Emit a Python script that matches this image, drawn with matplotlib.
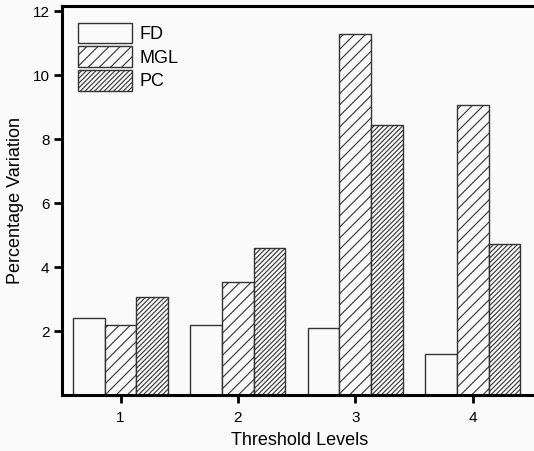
import numpy as np
import matplotlib
matplotlib.use('agg')
import matplotlib.pyplot as plt

plt.rcParams['font.family'] = ['Liberation Sans', 'DejaVu Sans']
plt.rcParams['hatch.color'] = '#444444'
plt.rcParams['hatch.linewidth'] = 0.8

## Values
levels = [1, 2, 3, 4]
fd = [2.41, 2.19, 2.11, 1.28]
mgl = [2.20, 3.54, 11.28, 9.06]
pc = [3.07, 4.60, 8.45, 4.73]

fig = plt.figure(figsize=(5.34, 4.51), dpi=100)
fig.patch.set_facecolor('#fafafa')
ax = fig.add_axes([0.116, 0.124, 0.89, 0.862])
ax.set_facecolor('#fafafa')

x = np.array(levels)
w = 0.27
ax.bar(x - w, fd, w, facecolor='#fafafa', edgecolor='#333333', linewidth=1.0, label='FD')
ax.bar(x, mgl, w, facecolor='#fafafa', edgecolor='#333333', linewidth=1.0, hatch='///', label='MGL')
ax.bar(x + w, pc, w, facecolor='#fafafa', edgecolor='#333333', linewidth=1.0, hatch='///////', label='PC')

ax.set_xlim(0.5, 4.55)
ax.set_ylim(0, 12.15)
ax.set_xticks(levels)
ax.set_yticks([2, 4, 6, 8, 10, 12])
ax.tick_params(direction='out', length=5.5, width=2, labelsize=11)
ax.tick_params(axis='x', pad=6)

for s in ax.spines.values():
    s.set_linewidth(2.2)

ax.set_xlabel('Threshold Levels', fontsize=13, labelpad=5)
ax.set_ylabel('Percentage Variation', fontsize=13, labelpad=6)

leg = ax.legend(loc='upper left', frameon=False, fontsize=13, handlelength=3.0,
                handleheight=1.4, labelspacing=0.15, borderaxespad=0.5, handletextpad=0.4)

fig.savefig('out.png', dpi=100, facecolor=fig.get_facecolor())
